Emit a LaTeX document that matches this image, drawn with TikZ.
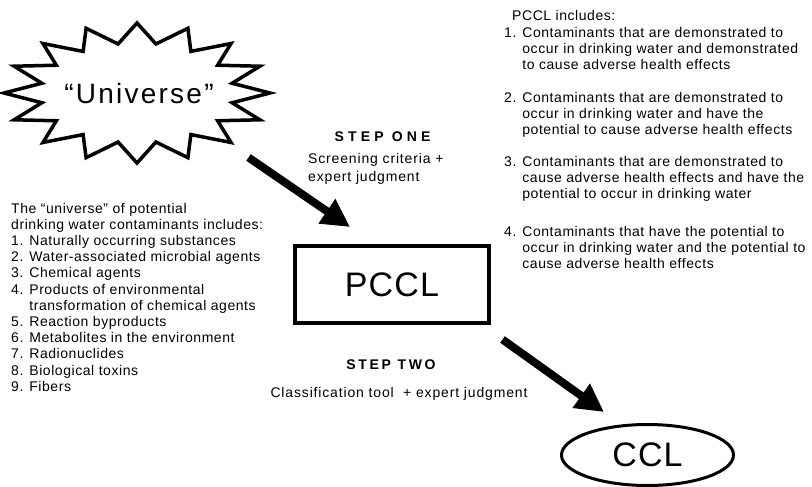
\documentclass[tikz,border=0pt]{standalone}
\usepackage{fontspec}
\setmainfont{Liberation Sans}
\newfontfamily\listfont[LetterSpace=4]{Liberation Sans}
\newfontfamily\capfont[LetterSpace=6]{Liberation Sans}
\newfontfamily\headfont{Liberation Sans}
\newfontfamily\bigfont[LetterSpace=8]{Liberation Sans}
\newfontfamily\boxfont[LetterSpace=3.5]{Liberation Sans}
\usetikzlibrary{arrows.meta, shapes.geometric}

\begin{document}
\begin{tikzpicture}[x=1pt, y=-1pt,
    burst/.style={line width=3.5pt},
    bigarrow/.style={line width=8pt, -{Triangle[length=28pt, width=28pt]}},
    listtext/.style={anchor=north west, inner sep=0pt, align=left,
      font=\listfont\fontsize{14}{16.2}\selectfont},
    captext/.style={inner sep=0pt, align=left,
      font=\capfont\fontsize{14}{18}\selectfont},
    steptitle/.style={anchor=base, inner sep=0pt,
      font=\headfont\bfseries\fontsize{14}{16}\selectfont}]
  \useasboundingbox (0,0) rectangle (812,487);

  % "Universe" burst
  \begin{scope}[shift={(137,93)}]
    \draw[burst] (90:133 and 70)
      \foreach \i in {0,...,15}{ -- ({101.25+\i*22.5}:97 and 50) -- ({112.5+\i*22.5}:133 and 70)} -- cycle;
  \end{scope}
  \node[inner sep=0pt, font=\bigfont\fontsize{28}{32}\selectfont] (universe) at (139,93) {“Universe”};

  % PCCL box and CCL ellipse
  \node[draw, line width=4pt, minimum width=194pt, minimum height=77pt, inner sep=0pt,
    font=\boxfont\fontsize{34}{38}\selectfont] (pccl) at (392,284.5) {PCCL};
  \node[draw, ellipse, line width=3pt, minimum width=172pt, minimum height=61pt, inner sep=0pt,
    font=\boxfont\fontsize{34}{38}\selectfont] (ccl) at (647.5,455) {CCL};

  % Step arrows
  \coordinate (onetail) at (248.5,157.5);
  \coordinate (onehead) at (350,227);
  \coordinate (twotail) at (502.5,339.5);
  \coordinate (twohead) at (604,412);
  \draw[bigarrow] (onetail) -- (onehead);
  \draw[bigarrow] (twotail) -- (twohead);

  % Step labels
  \node[steptitle] (stepone) at (382.5,142) {\addfontfeatures{LetterSpace=30}STEP ONE};
  \node[captext, anchor=north west] (onenote) at (308,153) {Screening criteria +\\expert judgment};
  \node[steptitle] (steptwo) at (391,369) {\addfontfeatures{LetterSpace=19}STEP TWO};
  \node[captext, anchor=base] (twonote) at (399,397) {Classification tool \ + expert judgment};

  % Universe list
  \node[listtext] (unilist) at (11,202.7) {The “universe” of potential\\
    drinking water contaminants includes:\\
    1. Naturally occurring substances\\
    2. Water-associated microbial agents\\
    3. Chemical agents\\
    4. Products of environmental\\
    \phantom{4. }transformation of chemical agents\\
    5. Reaction byproducts\\
    6. Metabolites in the environment\\
    7. Radionuclides\\
    8. Biological toxins\\
    9. Fibers};

  % PCCL list
  \node[listtext] (pcclhead) at (512,10) {PCCL includes:};
  \node[listtext] (itemone) at (504,27) {1. Contaminants that are demonstrated to\\
    \phantom{1. }occur in drinking water and demonstrated\\
    \phantom{1. }to cause adverse health effects};
  \node[listtext] (itemtwo) at (504,92) {2. Contaminants that are demonstrated to\\
    \phantom{2. }occur in drinking water and have the\\
    \phantom{2. }potential to cause adverse health effects};
  \node[listtext] (itemthree) at (504,156) {3. Contaminants that are demonstrated to\\
    \phantom{3. }cause adverse health effects and have the\\
    \phantom{3. }potential to occur in drinking water};
  \node[listtext] (itemfour) at (504,226) {4. Contaminants that have the potential to\\
    \phantom{4. }occur in drinking water and the potential to\\
    \phantom{4. }cause adverse health effects};
\end{tikzpicture}
\end{document}
